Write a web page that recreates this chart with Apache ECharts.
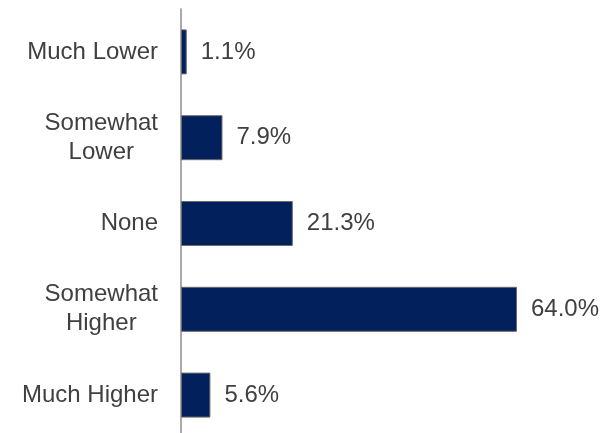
<!DOCTYPE html>
<html>
<head>
<meta charset="utf-8">
<script src="https://cdn.jsdelivr.net/npm/echarts@6/dist/echarts.min.js"></script>
<style>
  html, body { margin: 0; padding: 0; background: #ffffff; }
  #chart { width: 605px; height: 433px; }
</style>
</head>
<body>
<div id="chart"></div>
<script>
// Survey responses, top to bottom
const categories = ['Much Lower', 'Somewhat\nLower', 'None', 'Somewhat\nHigher', 'Much Higher'];
const shares = [1.1, 7.9, 21.3, 64.0, 5.6];

const chart = echarts.init(document.getElementById('chart'));

const textFont = 'Liberation Sans, Arial, sans-serif';

chart.setOption({
  animation: false,
  backgroundColor: '#ffffff',
  // the plot area runs slightly past the bottom edge, so the last band is cut off
  grid: { left: 181, width: 420, top: 9, height: 429, outerBoundsMode: 'none', containLabel: false },
  xAxis: {
    type: 'value',
    min: 0,
    max: 80,
    show: false
  },
  yAxis: {
    type: 'category',
    data: categories,
    inverse: true,
    axisLine: { show: true, lineStyle: { color: '#8c8c8c', width: 1.5 } },
    axisTick: { show: false },
    splitLine: { show: false },
    axisLabel: {
      margin: 23,
      align: 'right',
      fontFamily: textFont,
      fontSize: 24,
      color: '#404040',
      lineHeight: 29,
      // two-line labels: block right-aligned, lines centred on each other
      formatter: function (v) {
        return v.split('\n').map(function (s) { return '{c|' + s + '}'; }).join('\n');
      },
      rich: {
        c: {
          align: 'center',
          fontFamily: textFont,
          fontSize: 24,
          color: '#404040',
          lineHeight: 29
        }
      }
    }
  },
  series: [{
    type: 'bar',
    data: shares,
    barWidth: 45,
    itemStyle: { color: '#02205b', borderColor: '#6b6b6b', borderWidth: 1 },
    label: {
      show: true,
      position: 'right',
      distance: 14,
      fontFamily: textFont,
      fontSize: 24,
      color: '#404040',
      formatter: function (p) { return p.value.toFixed(1) + '%'; }
    }
  }]
});
</script>
</body>
</html>
